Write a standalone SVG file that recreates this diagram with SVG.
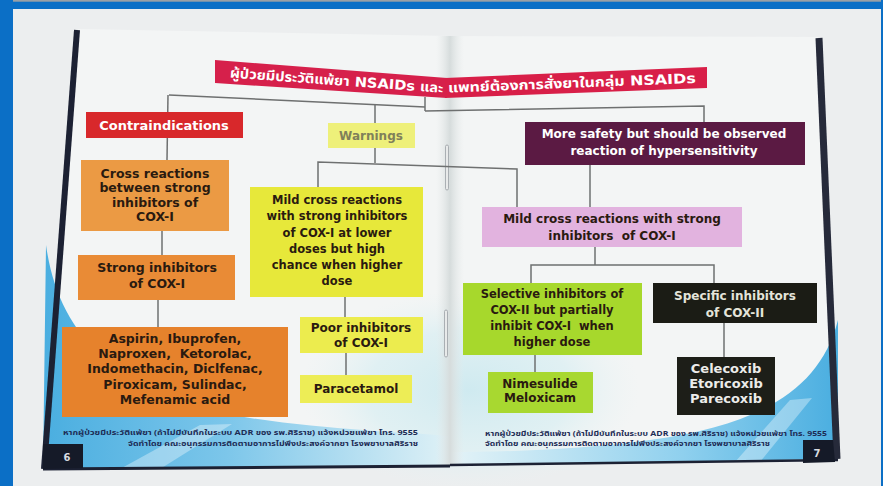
<svg xmlns="http://www.w3.org/2000/svg" width="883" height="486" viewBox="0 0 883 486">
<defs>
<style>
.t{font-family:"DejaVu Sans","Noto Sans Thai","Noto Sans",sans-serif;font-weight:bold;text-anchor:middle}
.dk{fill:#2a1a10}
.wt{fill:#ffffff}
.conn line,.conn polyline{stroke:#6e7070;stroke-width:1.5;fill:none}
.ft{font-family:"Noto Sans Thai","DejaVu Sans",sans-serif;font-weight:bold;font-size:7.5px;fill:#1d2c55}
</style>
<linearGradient id="gL" x1="0" y1="0" x2="1" y2="0">
<stop offset="0" stop-color="#4aaee0"/>
<stop offset="0.45" stop-color="#7cc6ea"/>
<stop offset="1" stop-color="#dff1f6"/>
</linearGradient>
<linearGradient id="gR" x1="1" y1="0" x2="0" y2="0">
<stop offset="0" stop-color="#4aaee0"/>
<stop offset="0.4" stop-color="#8fd0ee"/>
<stop offset="1" stop-color="#e4f3f7"/>
</linearGradient>
<radialGradient id="gC" cx="0.5" cy="0.5" r="0.5">
<stop offset="0" stop-color="#cfeaf0"/>
<stop offset="0.6" stop-color="#d8eef2" stop-opacity="0.7"/>
<stop offset="1" stop-color="#e8f2f3" stop-opacity="0"/>
</radialGradient>
<linearGradient id="fold" x1="0" y1="0" x2="1" y2="0">
<stop offset="0" stop-color="#e6eaea" stop-opacity="0"/>
<stop offset="0.5" stop-color="#d6dcdc"/>
<stop offset="1" stop-color="#e6eaea" stop-opacity="0"/>
</linearGradient>
</defs>

<!-- photo background -->
<rect x="0" y="0" width="883" height="486" fill="#eceeef"/>

<!-- pages -->
<g id="pages">
<polygon points="78,29 450,36 450,466 43,470" fill="#f3f5f5"/>
<polygon points="450,36 818,37 838,459 450,466" fill="#f3f5f5"/>
<ellipse cx="470" cy="390" rx="170" ry="100" fill="url(#gC)"/>
<path d="M46,245 C58,330 110,395 250,418 C330,430 400,432 450,436 L450,466 L43,470 Z" fill="url(#gL)"/>
<path d="M120,469 L200,425 L232,424 L160,469 Z" fill="#ffffff" opacity="0.35"/>
<path d="M838,320 C820,390 760,425 650,440 C580,450 500,452 450,452 L450,466 L838,459 Z" fill="url(#gR)"/>
<path d="M735,462 L790,400 L812,398 L760,462 Z" fill="#ffffff" opacity="0.35"/>
<rect x="436" y="36" width="28" height="430" fill="url(#fold)"/>
<line x1="77" y1="30" x2="44" y2="469" stroke="#1c2133" stroke-width="6"/>
<line x1="43" y1="469" x2="450" y2="466" stroke="#1c2133" stroke-width="3"/>
<line x1="450" y1="465" x2="838" y2="460" stroke="#1c2133" stroke-width="2.5"/>
<line x1="819" y1="38" x2="837" y2="459" stroke="#262a3a" stroke-width="7"/>
<polygon points="43,444 83,444 83,468 43,469" fill="#151a28"/>
<text x="67" y="461" class="t" style="font-size:10px;fill:#d8dce0">6</text>
<polygon points="803,440 833,440 835,462 803,463" fill="#151a28"/>
<text x="817" y="457" class="t" style="font-size:10px;fill:#d8dce0">7</text>
<rect x="445.5" y="145" width="3" height="45" rx="1.5" fill="#e8eaea" stroke="#9aa0a4" stroke-width="0.8"/>
<rect x="444.5" y="310" width="3" height="47" rx="1.5" fill="#e8eaea" stroke="#9aa0a4" stroke-width="0.8"/>
</g>

<!-- blue photo frame -->
<rect x="0" y="0" width="883" height="9" fill="#0b6fc6"/>
<rect x="0" y="0" width="883" height="1.7" fill="#9aa0a6"/>
<rect x="0" y="0" width="13" height="486" fill="#0b6fc6"/>
<rect x="881" y="0" width="2" height="486" fill="#0b6fc6"/>

<!-- connectors -->
<g id="connectors" class="conn">
<polyline points="169,95 425,107"/>
<line x1="425" y1="97" x2="425" y2="111"/>
<polyline points="425,111 704,106 704,122"/>
<line x1="168" y1="95" x2="167" y2="160"/>
<line x1="162" y1="231" x2="162" y2="255"/>
<line x1="158" y1="300" x2="158" y2="327"/>
<line x1="375" y1="105" x2="375" y2="123"/>
<line x1="375" y1="148" x2="375" y2="163"/>
<polyline points="318,187 318,162 517,169 517,207"/>
<line x1="345" y1="297" x2="345" y2="317"/>
<line x1="346" y1="353" x2="346" y2="375"/>
<line x1="590" y1="165" x2="590" y2="207"/>
<line x1="595" y1="247" x2="595" y2="265"/>
<polyline points="531,283 531,265 714,265 714,283"/>
<line x1="535" y1="355" x2="535" y2="372"/>
<line x1="724" y1="323" x2="724" y2="357"/>
</g>

<!-- title -->
<g id="title">
<polygon points="215,60 447,78 447,98 215,83" fill="#d6204b"/>
<polygon points="445,78 707,67 707,88 445,98" fill="#d81f48"/>
<text x="230" y="77.5" class="t wt" style="font-size:13.5px;text-anchor:start" transform="rotate(4.1 230 72.6)" textLength="214" lengthAdjust="spacingAndGlyphs">ผู้ป่วยมีประวัติแพ้ยา NSAIDs และ</text>
<text x="448" y="92.5" class="t wt" style="font-size:13.5px;text-anchor:start" transform="rotate(-2.2 448 87.8)" textLength="248" lengthAdjust="spacingAndGlyphs">แพทย์ต้องการสั่งยาในกลุ่ม NSAIDs</text>
</g>

<!-- left branch -->
<g id="contraindications">
<rect x="86" y="112" width="157" height="26" fill="#d8282b"/>
<text x="164" y="129.5" class="t wt" style="font-size:13px">Contraindications</text>
</g>
<g id="cross-reactions">
<rect x="81" y="160" width="148" height="71" fill="#eb9a44"/>
<text class="t dk" style="font-size:12.5px"><tspan x="155" y="177.5">Cross reactions</tspan><tspan x="155" y="192">between strong</tspan><tspan x="155" y="206.5">inhibitors of</tspan><tspan x="155" y="221">COX-I</tspan></text>
</g>
<g id="strong-inhibitors">
<rect x="78" y="255" width="157" height="45" fill="#e98b36"/>
<text class="t dk" style="font-size:12.5px"><tspan x="157" y="272">Strong inhibitors</tspan><tspan x="157" y="288">of COX-I</tspan></text>
</g>
<g id="strong-drugs">
<rect x="62" y="327" width="226" height="90" fill="#e6822c"/>
<text class="t dk" style="font-size:12.5px;white-space:pre" xml:space="preserve"><tspan x="175" y="342.5">Aspirin, Ibuprofen,</tspan><tspan x="175" y="357.5">Naproxen,  Ketorolac,</tspan><tspan x="175" y="373">Indomethacin, Diclfenac,</tspan><tspan x="175" y="388.5">Piroxicam, Sulindac,</tspan><tspan x="175" y="404">Mefenamic acid</tspan></text>
</g>

<!-- middle branch -->
<g id="warnings">
<rect x="328" y="123" width="87" height="25" fill="#eef07a"/>
<text x="371" y="140" class="t" style="font-size:12px;fill:#80805a">Warnings</text>
</g>
<g id="mild-cross-yellow">
<rect x="250" y="187" width="173" height="110" fill="#e7e83a"/>
<text class="t dk" style="font-size:11.5px"><tspan x="337" y="204">Mild cross reactions</tspan><tspan x="337" y="220">with strong inhibitors</tspan><tspan x="337" y="236.5">of COX-I at lower</tspan><tspan x="337" y="252.5">doses but high</tspan><tspan x="337" y="268.5">chance when higher</tspan><tspan x="337" y="285">dose</tspan></text>
</g>
<g id="poor-inhibitors">
<rect x="300" y="317" width="123" height="36" fill="#ecec4e"/>
<text class="t dk" style="font-size:12px"><tspan x="361" y="332">Poor inhibitors</tspan><tspan x="361" y="346.5">of COX-I</tspan></text>
</g>
<g id="paracetamol">
<rect x="300" y="375" width="112" height="28" fill="#eded56"/>
<text x="356" y="393" class="t dk" style="font-size:12px">Paracetamol</text>
</g>

<!-- right branch -->
<g id="more-safety">
<rect x="525" y="122" width="280" height="43" fill="#5b1a43"/>
<text class="t wt" style="font-size:12px"><tspan x="664" y="137.5">More safety but should be observed</tspan><tspan x="664" y="154.5">reaction of hypersensitivity</tspan></text>
</g>
<g id="mild-cross-pink">
<rect x="482" y="207" width="260" height="40" fill="#e2b3df"/>
<text class="t dk" style="font-size:12px;white-space:pre" xml:space="preserve"><tspan x="612" y="222.5">Mild cross reactions with strong</tspan><tspan x="612" y="239.5">inhibitors  of COX-I</tspan></text>
</g>
<g id="selective-cox2">
<rect x="463" y="283" width="179" height="72" fill="#a7d82c"/>
<text class="t dk" style="font-size:11.5px;white-space:pre" xml:space="preserve"><tspan x="552" y="297.5">Selective inhibitors of</tspan><tspan x="552" y="314">COX-II but partially</tspan><tspan x="552" y="330">inhibit COX-I  when</tspan><tspan x="552" y="346">higher dose</tspan></text>
</g>
<g id="specific-cox2">
<rect x="653" y="283" width="164" height="40" fill="#1b1c15"/>
<text class="t" style="font-size:12px;fill:#e4e4da"><tspan x="735" y="299.5">Specific inhibitors</tspan><tspan x="735" y="316.5">of COX-II</tspan></text>
</g>
<g id="selective-drugs">
<rect x="488" y="372" width="105" height="41" fill="#a8d830"/>
<text class="t dk" style="font-size:12px"><tspan x="540" y="388">Nimesulide</tspan><tspan x="540" y="402">Meloxicam</tspan></text>
</g>
<g id="specific-drugs">
<rect x="677" y="357" width="98" height="58" fill="#1d1e18"/>
<text class="t" style="font-size:13px;fill:#ececea"><tspan x="726" y="372.5">Celecoxib</tspan><tspan x="726" y="387.5">Etoricoxib</tspan><tspan x="726" y="402.5">Parecoxib</tspan></text>
</g>

<!-- footers -->
<g id="footers">
<text x="418" y="435" class="ft" text-anchor="end" textLength="355" lengthAdjust="spacingAndGlyphs">หากผู้ป่วยมีประวัติแพ้ยา (ถ้าไม่มีบันทึกในระบบ ADR ของ รพ.ศิริราช) แจ้งหน่วยแพ้ยา โทร. 9555</text>
<text x="418" y="445.5" class="ft" text-anchor="end" textLength="290" lengthAdjust="spacingAndGlyphs">จัดทำโดย คณะอนุกรรมการติดตามอาการไม่พึงประสงค์จากยา โรงพยาบาลศิริราช</text>
<text x="485" y="436" class="ft" textLength="342" lengthAdjust="spacingAndGlyphs">หากผู้ป่วยมีประวัติแพ้ยา (ถ้าไม่มีบันทึกในระบบ ADR ของ รพ.ศิริราช) แจ้งหน่วยแพ้ยา โทร. 9555</text>
<text x="485" y="446" class="ft" textLength="285" lengthAdjust="spacingAndGlyphs">จัดทำโดย คณะอนุกรรมการติดตามอาการไม่พึงประสงค์จากยา โรงพยาบาลศิริราช</text>
</g>
</svg>
